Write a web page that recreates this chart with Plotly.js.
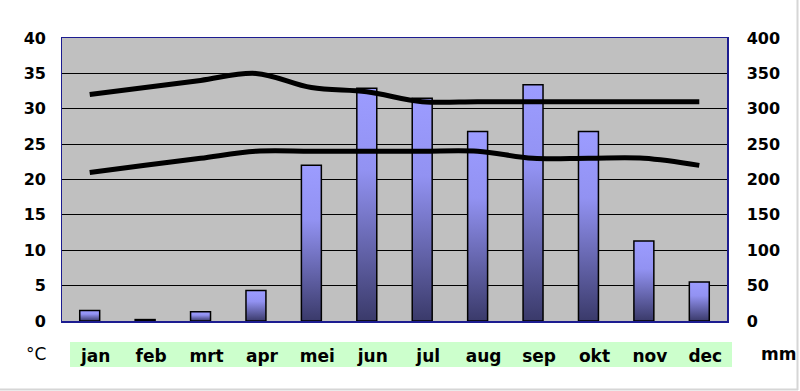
<!DOCTYPE html>
<html>
<head>
<meta charset="utf-8">
<script src="https://cdn.plot.ly/plotly-3.0.1.min.js"></script>
<style>html,body{margin:0;padding:0;background:#fff;}#chart{width:800px;height:391px;}</style>
</head>
<body>
<div id="chart"></div>
<script>
const months = ['jan','feb','mrt','apr','mei','jun','jul','aug','sep','okt','nov','dec'];
const rainfallMm = [15, 2, 13, 43, 220, 329, 315, 268, 334, 268, 113, 55];
const tempMax = [32, 33, 34, 35, 33, 32.4, 31, 31, 31, 31, 31, 31];
const tempMin = [21, 22, 23, 24, 24, 24, 24, 24, 23, 23, 23, 22];
const tempTicks = [0, 5, 10, 15, 20, 25, 30, 35, 40];
const rainTicks = [0, 50, 100, 150, 200, 250, 300, 350, 400];

const FONT = 'DejaVu Sans, Verdana, sans-serif';

const traces = [
  {
    type: 'bar', x: months, y: rainfallMm, yaxis: 'y', xaxis: 'x',
    width: 0.36,
    marker: {color: '#7b7bd0', line: {color: '#000000', width: 1.5}},
    hoverinfo: 'skip', showlegend: false
  },
  {
    type: 'scatter', mode: 'lines', x: months, y: tempMax, yaxis: 'y2', xaxis: 'x',
    line: {color: '#000000', width: 5, shape: 'spline', smoothing: 1},
    hoverinfo: 'skip', showlegend: false
  },
  {
    type: 'scatter', mode: 'lines', x: months, y: tempMin, yaxis: 'y2', xaxis: 'x',
    line: {color: '#000000', width: 5, shape: 'spline', smoothing: 1},
    hoverinfo: 'skip', showlegend: false
  }
];

const px = v => (v - 62) / 665;
const py = v => (321 - v) / 283;

const layout = {
  width: 800, height: 391,
  margin: {l: 62, r: 73, t: 38, b: 70},
  paper_bgcolor: '#ffffff',
  plot_bgcolor: '#c0c0c0',
  showlegend: false,
  bargap: 0,
  font: {family: FONT, size: 16, color: '#000000'},
  xaxis: {
    type: 'category',
    tickvals: months, ticktext: months,
    showgrid: false, zeroline: false,
    showline: true, mirror: true, linecolor: '#1c1c90', linewidth: 1.5,
    ticks: '', ticklabelstandoff: 19, ticklabelshift: 6,
    tickfont: {family: FONT, size: 17, color: '#000000', weight: 'bold'},
    fixedrange: true
  },
  yaxis: {
    side: 'right',
    range: [0, 400],
    tickvals: rainTicks, ticktext: rainTicks.map(String),
    showgrid: true, gridcolor: '#000000', gridwidth: 1.2,
    zeroline: false,
    showline: true, mirror: true, linecolor: '#1c1c90', linewidth: 1.5,
    ticks: '', ticklabelstandoff: 15,
    tickfont: {family: FONT, size: 16, color: '#000000', weight: 'bold'},
    fixedrange: true
  },
  yaxis2: {
    overlaying: 'y', side: 'left',
    range: [0, 40],
    tickvals: tempTicks, ticktext: tempTicks.map(String),
    showgrid: false, zeroline: false, showline: false,
    ticks: '', ticklabelstandoff: 15,
    tickfont: {family: FONT, size: 16, color: '#000000', weight: 'bold'},
    fixedrange: true
  },
  shapes: [
    {type: 'rect', xref: 'paper', yref: 'paper', layer: 'below',
     x0: px(70), x1: px(732), y0: py(367), y1: py(342),
     fillcolor: '#ccffcc', line: {width: 0}},
    {type: 'line', xref: 'paper', yref: 'paper',
     x0: px(0), x1: px(798), y0: py(389.5), y1: py(389.5),
     line: {color: '#d6d6d6', width: 2}},
    {type: 'line', xref: 'paper', yref: 'paper',
     x0: px(797.5), x1: px(797.5), y0: py(390), y1: py(0),
     line: {color: '#d6d6d6', width: 2}}
  ],
  annotations: [
    {xref: 'paper', yref: 'paper', x: px(36), y: py(354), text: '°C', showarrow: false,
     xanchor: 'center', yanchor: 'middle', font: {family: FONT, size: 17, color: '#000000'}},
    {xref: 'paper', yref: 'paper', x: px(778), y: py(354), text: 'mm', showarrow: false,
     xanchor: 'center', yanchor: 'middle', font: {family: FONT, size: 17, color: '#000000', weight: 'bold'}}
  ]
};

Plotly.newPlot('chart', traces, layout, {staticPlot: true, displayModeBar: false}).then(function (gd) {
  const svg = gd.querySelector('.main-svg');
  const ns = 'http://www.w3.org/2000/svg';
  let defs = svg.querySelector('defs');
  if (!defs) { defs = document.createElementNS(ns, 'defs'); svg.insertBefore(defs, svg.firstChild); }
  const grad = document.createElementNS(ns, 'linearGradient');
  grad.setAttribute('id', 'barGrad');
  grad.setAttribute('x1', '0'); grad.setAttribute('y1', '0');
  grad.setAttribute('x2', '0'); grad.setAttribute('y2', '1');
  [['0', '#9c9cff'], ['0.35', '#9292f2'], ['1', '#3a3a6a']].forEach(function (s) {
    const st = document.createElementNS(ns, 'stop');
    st.setAttribute('offset', s[0]);
    st.setAttribute('stop-color', s[1]);
    grad.appendChild(st);
  });
  defs.appendChild(grad);
  gd.querySelectorAll('.barlayer .point path').forEach(function (p) {
    p.style.fill = 'url(#barGrad)';
    p.style.fillOpacity = '1';
  });
});
</script>
</body>
</html>
